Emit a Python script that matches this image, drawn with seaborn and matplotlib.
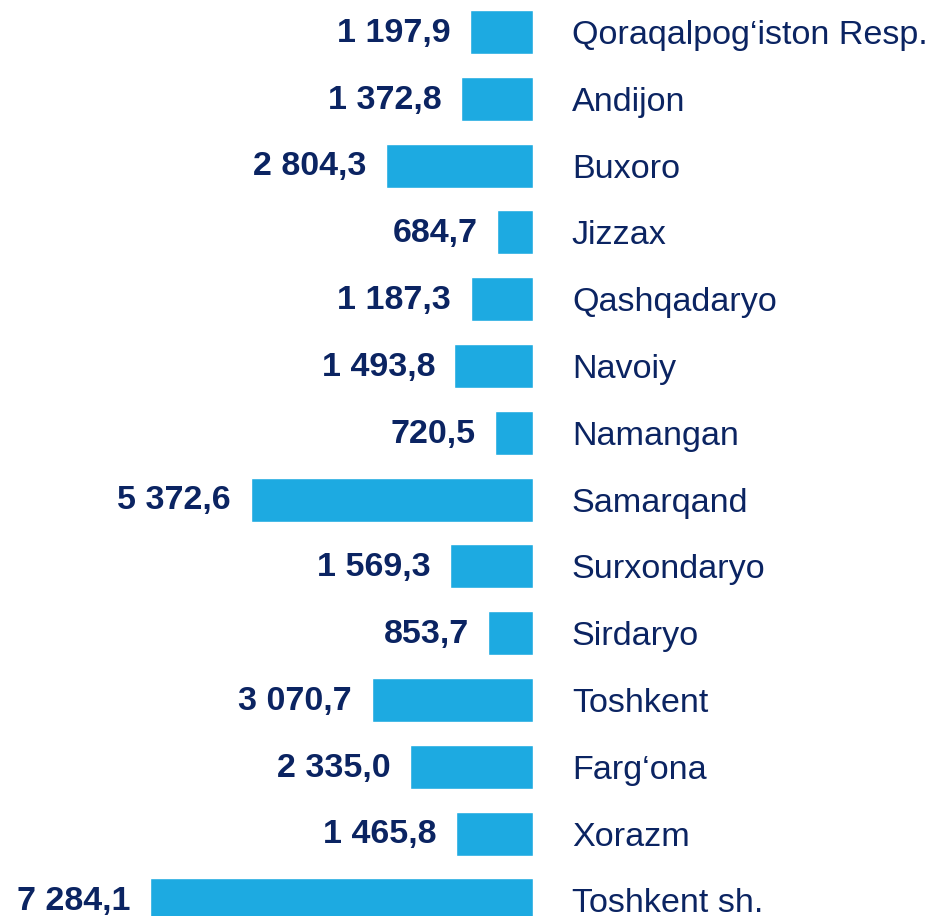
import pandas as pd
import matplotlib
matplotlib.use('Agg')
import matplotlib.pyplot as plt
import seaborn as sns

regions = ['Qoraqalpog‘iston Resp.', 'Andijon', 'Buxoro', 'Jizzax', 'Qashqadaryo',
           'Navoiy', 'Namangan', 'Samarqand', 'Surxondaryo', 'Sirdaryo',
           'Toshkent', 'Farg‘ona', 'Xorazm', 'Toshkent sh.']
values = [1197.9, 1372.8, 2804.3, 684.7, 1187.3, 1493.8, 720.5,
          5372.6, 1569.3, 853.7, 3070.7, 2335.0, 1465.8, 7284.1]

bar_color = '#1DAAE1'
text_color = '#0B2462'

sns.set_style('white')
plt.rcParams['font.family'] = ['Liberation Sans', 'DejaVu Sans']

df = pd.DataFrame({'region': regions, 'value': values})

fig = plt.figure(figsize=(9.36, 9.16), dpi=100)
ax = fig.add_axes([0, 0, 533 / 936, 1])

sns.barplot(data=df, x='value', y='region', color=bar_color, width=0.66,
            saturation=1, ax=ax)

ax.set_xlim(10137, 0)
ax.set_ylim(13.234, -0.479)

# region names on the right side
ax.yaxis.tick_right()
ax.tick_params(axis='y', length=0, pad=28, labelsize=24.6, labelcolor=text_color)
ax.set_xticks([])
ax.set_xlabel('')
ax.set_ylabel('')
sns.despine(ax=ax, left=True, right=True, top=True, bottom=True)

# value labels to the left of each bar
for i, v in enumerate(values):
    label = f'{v:,.1f}'.replace(',', ' ').replace('.', ',')
    ax.annotate(label, xy=(v, i), xytext=(-14, -1), textcoords='offset points',
                ha='right', va='center', fontsize=24.5, fontweight='bold',
                color=text_color, annotation_clip=False)

fig.savefig('out.png', dpi=100)
